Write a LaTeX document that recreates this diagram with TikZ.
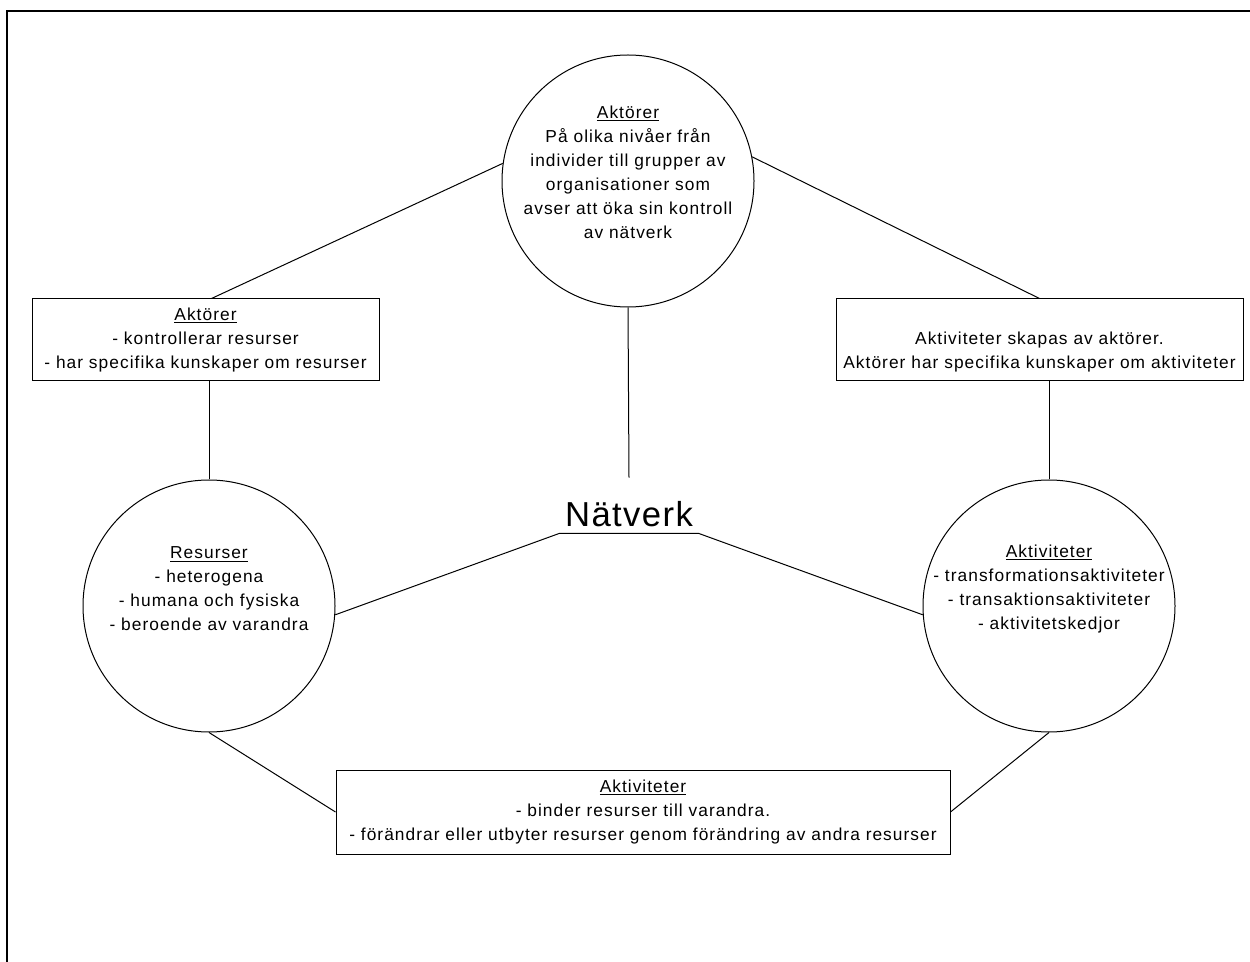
\documentclass[tikz,border=0pt]{standalone}
\usepackage{fontspec}
\setmainfont{Liberation Sans}[LetterSpace=6]
\newfontfamily\bigfont{Liberation Sans}[LetterSpace=4]
\newcommand\smalltxt{\fontsize{13}{18}\selectfont}
\begin{document}
\begin{tikzpicture}[x=0.75pt,y=-0.75pt,
  conn/.style={draw=black,line width=0.75pt},
  circ/.style={circle,draw,line width=0.75pt,minimum size=189pt,inner sep=0pt},
  box/.style={rectangle,draw,line width=0.75pt,inner sep=0pt,align=center,font=\smalltxt},
  txt/.style={align=center,font=\smalltxt,inner sep=0pt},
  frame/.style={draw=black,line width=1.5pt}]
\useasboundingbox (0,0) rectangle (1250,962);
% outer frame (only top and left edges visible)
\draw[frame] (7,962) -- (7,11) -- (1250,11);

% circles
\node[circ] (top) at (628,181) {};
\node[txt] (toptext) at (628,172) {\underline{Aktörer}\\På olika nivåer från\\individer till grupper av\\organisationer som\\avser att öka sin kontroll\\av nätverk};
\node[circ] (res) at (209,606) {};
\node[txt] (restext) at (209,589) {\underline{Resurser}\\- heterogena\\- humana och fysiska\\- beroende av varandra};
\node[circ] (act) at (1049,606) {};
\node[txt] (acttext) at (1049,589) {\underline{Aktiviteter}\\- transformationsaktiviteter\\- transaktionsaktiviteter\\- aktivitetskedjor};

% boxes
\node[box,minimum width=260.25pt,minimum height=61.5pt] (lbox) at (205.5,340) {\underline{Aktörer}\\- kontrollerar resurser\\- har specifika kunskaper om resurser};
\node[box,minimum width=305.25pt,minimum height=61.5pt] (rbox) at (1039.5,340) {\vphantom{Ak}\\Aktiviteter skapas av aktörer.\\Aktörer har specifika kunskaper om aktiviteter};
\node[box,minimum width=460.5pt,minimum height=63pt] (bbox) at (643,812) {\underline{Aktiviteter}\\- binder resurser till varandra.\\- förändrar eller utbyter resurser genom förändring av andra resurser};

% network centre
\node[minimum width=103.5pt,minimum height=41.25pt,inner sep=0pt] (nat) at (629,505.5) {};
\node[anchor=base,font={\bigfont\fontsize{26}{30}\selectfont},inner sep=0pt] (nattext) at (629,527) {Nätverk};

% connectors
\draw[conn] (top.172) -- ([xshift=4.5pt]lbox.north);
\draw[conn] (top.11) -- (rbox.north);
\draw[conn] (res.north) -- (res.north |- lbox.south);
\draw[conn] (act.north) -- (act.north |- rbox.south);
\draw[conn] (res.south) -- (bbox.west);
\draw[conn] (act.south) -- (bbox.east);
\draw[conn] (top.south) -- (nat.north);
\draw[conn] (res.-4) -- (nat.south west) -- (nat.south east) -- (act.184);
\end{tikzpicture}
\end{document}
